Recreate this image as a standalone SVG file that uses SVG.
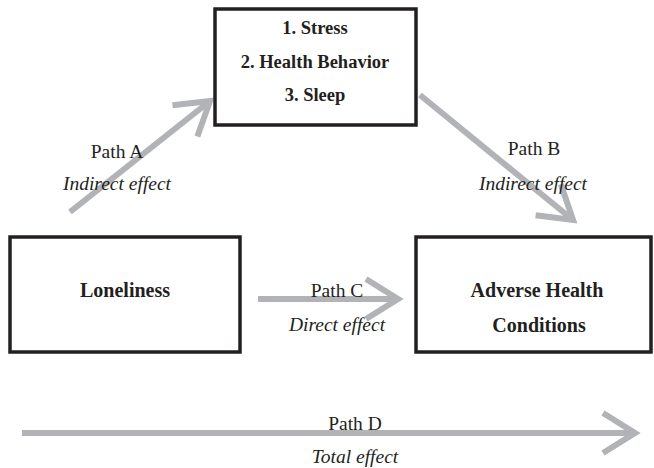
<svg xmlns="http://www.w3.org/2000/svg" width="654" height="468" viewBox="0 0 654 468">
<defs>
<style>
.box{fill:#fff;stroke:#231f20;stroke-width:3.5}
text{font-family:'Liberation Serif','Times New Roman',serif;fill:#231f20;text-anchor:middle}
.t{font-weight:bold;font-size:18.5px}
.b{font-weight:bold;font-size:20px}
.l{font-size:19.5px}
.i{font-style:italic}
.arr{stroke:#b1b3b6;stroke-width:6;fill:none}
</style>
<marker id="head" markerUnits="userSpaceOnUse" markerWidth="60" markerHeight="60" refX="0" refY="0" viewBox="-40 -30 60 60" orient="auto" overflow="visible">
<path d="M-32,-20 L0,0 L-32,20" fill="none" stroke="#b1b3b6" stroke-width="6" stroke-linejoin="miter"/>
</marker>
</defs>
<rect width="654" height="468" fill="#fff"/>
<g id="connectors">
<line class="arr" x1="70" y1="212" x2="210" y2="101" marker-end="url(#head)"/>
<line class="arr" x1="420" y1="95" x2="573" y2="220" marker-end="url(#head)"/>
<line class="arr" x1="258" y1="299" x2="398" y2="299" marker-end="url(#head)"/>
<line class="arr" x1="22" y1="433" x2="635" y2="433" marker-end="url(#head)"/>
</g>
<g id="mediators">
<rect class="box" x="215" y="9" width="201" height="116"/>
<text class="t" x="315" y="34">1. Stress</text>
<text class="t" x="315" y="68">2. Health Behavior</text>
<text class="t" x="315" y="101">3. Sleep</text>
</g>
<g id="loneliness">
<rect class="box" x="10" y="237" width="230" height="115"/>
<text class="b" x="125" y="297">Loneliness</text>
</g>
<g id="outcome">
<rect class="box" x="416" y="237" width="235" height="115"/>
<text class="b" x="537" y="297">Adverse Health</text>
<text class="b" x="539" y="332">Conditions</text>
</g>
<g id="labels">
<text class="l" x="117" y="158">Path A</text>
<text class="l i" x="117" y="190">Indirect effect</text>
<text class="l" x="534" y="155">Path B</text>
<text class="l i" x="533" y="190">Indirect effect</text>
<text class="l" x="337" y="297">Path C</text>
<text class="l i" x="337" y="331">Direct effect</text>
<text class="l" x="355" y="430">Path D</text>
<text class="l i" x="355" y="463">Total effect</text>
</g>
</svg>
